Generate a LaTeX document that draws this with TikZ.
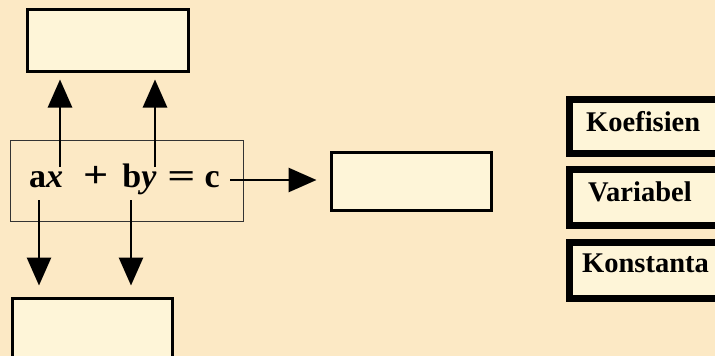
\documentclass[tikz,border=0pt]{standalone}
\usepackage{fontspec}
\setmainfont{Liberation Serif}
\usetikzlibrary{arrows.meta,positioning}

\definecolor{latar}{RGB}{252,233,197}
\definecolor{isian}{RGB}{254,245,216}

\begin{document}
\begin{tikzpicture}[x=1pt,y=-1pt,
  kotak/.style={draw=black,line width=3pt,fill=isian,inner sep=0pt},
  kunci/.style={draw=black,line width=7pt,fill=isian,inner sep=0pt,
    minimum width=170pt,anchor=north west},
  label/.style={font=\fontsize{28.5}{28.5}\selectfont\bfseries,anchor=base west,inner sep=0pt},
  panah/.style={line width=2.8pt,-{Triangle[length=28pt,width=24pt]}}]

% Background and frame of the picture
\fill[latar] (0,0) rectangle (715,356);
\useasboundingbox (0,0) rectangle (715,356);
\clip (0,0) rectangle (715,356);

% Empty boxes to fill in
\node[kotak,minimum width=161pt,minimum height=62pt] (atas) at (107.5,40) {};
\node[kotak,minimum width=160pt,minimum height=62pt] (bawah) at (92,329) {};
\node[kotak,minimum width=160pt,minimum height=58pt] (kanan) at (411,181) {};

% The equation
\node[draw=black!80,line width=1pt,minimum width=233pt,minimum height=81pt,
  inner sep=0pt] (pers) at (126.5,180.5) {};
\node[font=\fontsize{34}{34}\selectfont\bfseries,anchor=base west,inner sep=0pt]
  (teks) at (29,187) {a\textit{x}\hspace{20pt}\scalebox{1.3}[1.1]{+}\hspace{14pt}b\textit{y}\hspace{11pt}\scalebox{1.45}[1]{=}\hspace{9pt}c};

% Arrow start points
\coordinate (x1) at (60,167);  % over x
\coordinate (y1) at (155,167); % over y
\coordinate (a1) at (39,200);  % under a
\coordinate (b1) at (131,200); % under b
\coordinate (c1) at (230,180); % right of c

% Arrows
\draw[panah,shorten >=7pt] (x1) -- (x1 |- atas.south);
\draw[panah,shorten >=7pt] (y1) -- (y1 |- atas.south);
\draw[panah,shorten >=11pt] (a1) -- (a1 |- bawah.north);
\draw[panah,shorten >=11pt] (b1) -- (b1 |- bawah.north);
\draw[panah,shorten >=13pt] (c1) -- (c1 -| kanan.west);

% Answer keys on the right
\node[kunci,minimum height=54pt] (koef) at (565.5,95.5) {};
\node[kunci,minimum height=56pt] (var) at (565.5,165.5) {};
\node[kunci,minimum height=56pt] (kons) at (565.5,238.5) {};
\node[label] at (586,131) {Koefisien};
\node[label] at (588,201) {Variabel};
\node[label] at (582,272) {Konstanta};

\end{tikzpicture}
\end{document}
